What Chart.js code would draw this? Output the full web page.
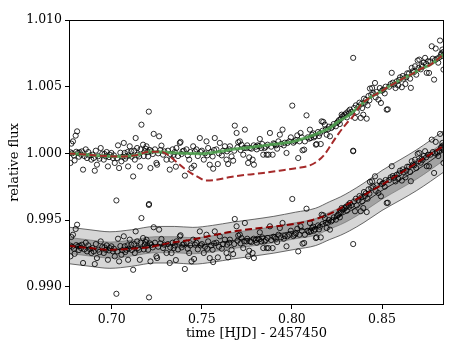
<!DOCTYPE html>
<html>
<head>
<meta charset="utf-8">
<script src="https://cdn.jsdelivr.net/npm/chart.js@4/dist/chart.umd.min.js"></script>
<style>
html,body{margin:0;padding:0;background:#fff;}
#wrap{width:463px;height:347px;}
</style>
</head>
<body>
<div id="wrap"><canvas id="c" width="463" height="347"></canvas></div>
<script>
// ---------- data ----------
const xTicks = [0.70, 0.75, 0.80, 0.85];
const yTicks = [0.990, 0.995, 1.000, 1.005, 1.010];
const OFFSET = 0.007; // lower copy of the light curve is shifted down by this

const obsTime = [
0.6771,0.6771,0.6776,0.6785,0.6794,0.6800,0.6808,0.6813,0.6822,0.6830,0.6841,0.6856,0.6863,0.6878,0.6887,0.6906,0.6918,0.6939,0.6948,0.6956,
0.6967,0.6979,0.6989,0.6998,0.7007,0.7017,0.7026,0.7035,0.7041,0.7054,0.7067,0.7072,0.7081,0.7091,0.7100,0.7109,0.7119,0.7128,0.7133,0.7141,
0.7152,0.7156,0.7165,0.7174,0.7183,0.7193,0.7202,0.7206,0.7207,0.7215,0.7220,0.7233,0.7248,0.7252,0.7263,0.7276,0.7285,0.7304,0.7322,0.7332,
0.7344,0.7356,0.7359,0.7378,0.7382,0.7393,0.7406,0.7415,0.7430,0.7443,0.7452,0.7457,0.7470,0.7489,0.7494,0.7511,0.7526,0.7535,0.7544,0.7563,
0.7560,0.7572,0.7581,0.7589,0.7600,0.7611,0.7628,0.7637,0.7646,0.7656,0.7665,0.7674,0.7683,0.7693,0.7702,0.7711,0.7720,0.7730,0.7739,0.7748,
0.7757,0.7763,0.7767,0.7782,0.7789,0.7800,0.7810,0.7822,0.7830,0.7841,0.7855,0.7860,0.7870,0.7878,0.7893,0.7905,0.7918,0.7933,0.7948,0.7960,
0.7970,0.7975,0.7994,0.8002,0.8015,0.8030,0.8035,0.8048,0.8059,0.8068,0.8072,0.8081,0.8095,0.8100,0.8112,0.8122,0.8133,0.8137,0.8150,0.8160,
0.8165,0.8174,0.8183,0.8193,0.8200,0.8211,0.8225,0.8244,0.8257,0.8266,0.8276,0.8280,0.8294,0.8305,0.8313,0.8322,0.8340,0.8340,0.8350,0.8360,
0.8370,0.8382,0.8390,0.8396,0.8405,0.8415,0.8420,0.8430,0.8433,0.8445,0.8461,0.8465,0.8480,0.8494,0.8500,0.8507,0.8515,0.8526,0.8532,0.8540,
0.8554,0.8567,0.8575,0.8582,0.8590,0.8600,0.8610,0.8620,0.8630,0.8640,0.8656,0.8660,0.8665,0.8671,0.8683,0.8690,0.8698,0.8707,0.8715,0.8725,
0.8739,0.8748,0.8755,0.8761,0.8776,0.8789,0.8798,0.8805,0.8812,0.8822,0.8830,0.8835,0.8841,0.8838,
0.6780,0.6790,0.6803,0.6818,0.6835,0.6848,0.6870,0.6893,0.6900,0.6912,0.6925,0.6932,0.6960,0.6972,0.6985,0.7012,0.7030,0.7048,0.7060,0.7075,
0.7088,0.7095,0.7112,0.7125,0.7145,0.7160,0.7178,0.7188,0.7198,0.7212,0.7228,0.7240,0.7258,0.7270,0.7292,0.7312,0.7325,0.7338,0.7350,0.7368,
0.7388,0.7400,0.7422,0.7436,0.7462,0.7478,0.7500,0.7518,0.7530,0.7552,0.7568,0.7595,0.7618,0.7640,0.7652,0.7680,0.7698,0.7715,0.7735,0.7752,
0.7775,0.7788,0.7805,0.7818,0.7835,0.7848,0.7865,0.7885,0.7898,0.7912,0.7925,0.7940,0.7955,0.7985,0.8008,0.8022,0.8042,0.8055,0.8088,0.8105,
0.8118,0.8128,0.8145,0.8155,0.8170,0.8188,0.8205,0.8218,0.8232,0.8250,0.8262,0.8272,0.8287,0.8300,0.8318,0.8330,0.8345,0.8355,0.8375,0.8385,
0.8400,0.8410,0.8425,0.8440,0.8452,0.8470,0.8488,0.8520,0.8548,0.8560,0.8595,0.8615,0.8635,0.8650,0.8678,0.8702,0.8720,0.8732,0.8745,0.8768,
0.8782,0.8795,0.8818,0.8828,0.8840
];
const obsFlux = [
1.00008,0.99928,1.00073,1.00090,0.99947,1.00133,1.00165,1.00003,1.00008,0.99990,0.99878,1.00030,0.99965,0.99983,0.99953,0.99870,0.99915,1.00040,0.99998,0.99953,
0.99977,0.99902,0.99990,1.00003,0.99965,0.99928,0.99647,1.00060,0.99890,0.99940,1.00078,1.00003,0.99977,0.99902,1.00053,1.00015,0.99827,0.99953,1.00115,1.00040,
0.99977,0.99902,1.00215,1.00065,1.00015,1.00053,0.99977,1.00313,0.99620,0.99890,1.00015,1.00146,0.99928,0.99915,1.00128,1.00058,0.99990,0.99953,0.99878,0.99953,
0.99990,0.99900,1.00040,1.00078,1.00086,1.00015,0.99833,1.00030,0.99953,0.99890,1.00053,0.99908,1.00030,1.00115,1.00010,0.99953,1.00090,1.00040,0.99915,0.99885,
0.99977,1.00115,1.00030,0.99920,1.00078,0.99985,1.00053,0.99953,0.99920,1.00053,0.99977,0.99945,1.00208,1.00153,1.00083,1.00090,1.00065,0.99990,1.00178,1.00040,
0.99928,0.99970,1.00040,0.99953,0.99915,1.00050,1.00060,1.00108,1.00040,0.99990,1.00050,0.99990,0.99990,1.00153,0.99990,1.00070,1.00035,1.00140,1.00178,1.00080,
1.00003,1.00078,1.00120,1.00358,1.00090,1.00135,0.99965,1.00153,1.00023,1.00028,1.00090,1.00285,1.00110,1.00178,1.00140,1.00120,1.00065,1.00070,1.00130,1.00070,
1.00240,1.00236,1.00215,1.00140,1.00180,1.00128,1.00200,1.00203,1.00240,1.00220,1.00290,1.00278,1.00290,1.00270,1.00315,1.00328,1.00716,1.00020,1.00266,1.00310,
1.00350,1.00266,1.00340,1.00290,1.00380,1.00260,1.00360,1.00398,1.00486,1.00490,1.00528,1.00420,1.00403,1.00378,1.00470,1.00478,1.00450,1.00328,1.00330,1.00500,
1.00604,1.00516,1.00490,1.00540,1.00510,1.00570,1.00496,1.00560,1.00520,1.00600,1.00560,1.00491,1.00641,1.00616,1.00653,1.00590,1.00696,1.00703,1.00630,1.00650,
1.00716,1.00604,1.00690,1.00603,1.00803,1.00553,1.00786,1.00710,1.00680,1.00846,1.00750,1.00778,1.00628,1.00730,
1.00000,0.99985,1.00012,0.99975,1.00015,0.99980,1.00010,0.99990,0.99965,1.00020,0.99978,0.99960,0.99995,1.00010,0.99972,0.99985,0.99965,1.00005,0.99975,0.99960,
1.00010,0.99985,0.99975,1.00020,0.99990,1.00030,0.99980,1.00035,1.00010,1.00025,0.99995,1.00030,1.00000,1.00025,1.00015,1.00020,0.99995,1.00030,1.00010,0.99980,
0.99995,1.00020,0.99985,1.00010,1.00015,0.99980,1.00020,1.00000,0.99985,1.00010,1.00025,1.00000,1.00020,1.00015,1.00030,1.00020,1.00045,1.00025,1.00040,1.00060,
1.00035,1.00060,1.00030,1.00055,1.00070,1.00040,1.00065,1.00050,1.00075,1.00060,1.00090,1.00070,1.00060,1.00090,1.00080,1.00100,1.00090,1.00120,1.00120,1.00115,
1.00150,1.00130,1.00160,1.00150,1.00170,1.00180,1.00200,1.00190,1.00220,1.00230,1.00250,1.00260,1.00280,1.00300,1.00300,1.00310,1.00340,1.00360,1.00380,1.00370,
1.00410,1.00400,1.00430,1.00440,1.00450,1.00460,1.00490,1.00500,1.00520,1.00530,1.00550,1.00580,1.00570,1.00600,1.00610,1.00640,1.00660,1.00680,1.00670,1.00690,
1.00710,1.00700,1.00720,1.00740,1.00760
];

// smooth fit through the upper light curve
const fitTime = [0.676,0.685,0.693,0.704,0.713,0.721,0.730,0.740,0.749,0.758,0.767,0.777,0.785,0.793,0.801,0.810,0.816,0.821,0.826,0.832,0.838,0.843,0.849,0.854,0.860,0.866,0.871,0.877,0.884];
const fitFlux = [1.0000,0.99992,0.99983,0.99977,0.99985,1.00013,1.00008,1.00000,0.99998,1.0001,1.0003,1.00045,1.0006,1.00073,1.0009,1.00128,1.0016,1.0019,1.0024,1.0029,1.0036,1.00416,1.0046,1.00503,1.0055,1.0059,1.0063,1.00666,1.00741];

// transit model (upper, dashed)
const modelTime = [0.676,0.685,0.693,0.704,0.713,0.721,0.728,0.732,0.736,0.740,0.744,0.748,0.752,0.757,0.766,0.775,0.784,0.793,0.803,0.810,0.814,0.818,0.822,0.826,0.830,0.834,0.838,0.843,0.849,0.854,0.860,0.866,0.871,0.877,0.884];
const modelFlux = [1.0000,0.99992,0.99983,0.99977,0.99985,1.00013,1.0001,0.9998,0.99935,0.9989,0.99852,0.99822,0.99797,0.99800,0.99823,0.9984,0.99853,0.9987,0.9989,0.9991,0.9994,0.9999,1.0007,1.0015,1.0022,1.0028,1.0036,1.00416,1.0046,1.00503,1.0055,1.0059,1.0063,1.00666,1.00741];

// lower panel: prediction mean with 1 and 2 sigma envelopes
const predTime = [0.676,0.688,0.699,0.711,0.724,0.735,0.745,0.756,0.767,0.779,0.790,0.802,0.813,0.821,0.827,0.832,0.840,0.850,0.860,0.869,0.877,0.885];
const predMean = [0.9931,0.9929,0.99275,0.9929,0.99315,0.99315,0.99307,0.99322,0.99346,0.99368,0.9939,0.9942,0.99448,0.99496,0.9953,0.99565,0.9963,0.99722,0.9980,0.99872,0.99945,1.00022];
const predInner = [0.0006,0.0006,0.0006,0.0006,0.0006,0.0006,0.0006,0.0006,0.0006,0.0006,0.0006,0.0006,0.00062,0.00063,0.00064,0.00065,0.00065,0.00066,0.00066,0.00067,0.00067,0.00068];
const predOuter = [0.00137,0.00137,0.00137,0.00137,0.00137,0.00137,0.00138,0.00138,0.00138,0.00138,0.00138,0.00139,0.0014,0.00142,0.00144,0.00146,0.00148,0.0015,0.00152,0.00153,0.00154,0.00155];

// lower dashed model
const lowModelTime = [0.676,0.688,0.699,0.711,0.721,0.731,0.744,0.756,0.767,0.779,0.790,0.804,0.815,0.823,0.832,0.841,0.850,0.860,0.869,0.877,0.885];
const lowModelFlux = [0.99307,0.9929,0.99277,0.99285,0.99297,0.99325,0.99352,0.99385,0.99414,0.99435,0.99452,0.99477,0.99515,0.9956,0.99628,0.99695,0.99765,0.99848,0.99928,0.99995,1.00062];

// ---------- chart ----------
const pts = (xs, ys) => xs.map((x, i) => ({x: x, y: ys[i]}));
const FONT = 'DejaVu Serif';
Chart.defaults.font.family = FONT;
Chart.defaults.font.size = 12.5;
Chart.defaults.color = '#000';

const lineBase = {type: 'line', pointRadius: 0, fill: false, cubicInterpolationMode: 'monotone'};

const datasets = [
  Object.assign({}, lineBase, {label: 'outer up', data: pts(predTime, predMean.map((m, i) => m + predOuter[i])),
    borderColor: '#444', borderWidth: 0.8, fill: '+1', backgroundColor: '#d6d6d6', order: 20}),
  Object.assign({}, lineBase, {label: 'outer low', data: pts(predTime, predMean.map((m, i) => m - predOuter[i])),
    borderColor: '#444', borderWidth: 0.8, order: 19}),
  Object.assign({}, lineBase, {label: 'inner up', data: pts(predTime, predMean.map((m, i) => m + predInner[i])),
    borderColor: '#666', borderWidth: 0.6, fill: '+1', backgroundColor: '#a2a2a2', order: 18}),
  Object.assign({}, lineBase, {label: 'inner low', data: pts(predTime, predMean.map((m, i) => m - predInner[i])),
    borderColor: '#666', borderWidth: 0.6, order: 17}),
  Object.assign({}, lineBase, {label: 'pred mean', data: pts(predTime, predMean),
    borderColor: '#222', borderWidth: 1, order: 16}),
  {type: 'scatter', label: 'lower obs', data: pts(obsTime, obsFlux.map(v => v - OFFSET)),
    pointRadius: 2.6, borderWidth: 1, borderColor: 'rgba(0,0,0,0.82)', backgroundColor: 'rgba(0,0,0,0)', order: 15},
  {type: 'scatter', label: 'upper obs', data: pts(obsTime, obsFlux),
    pointRadius: 2.6, borderWidth: 1, borderColor: 'rgba(0,0,0,0.82)', backgroundColor: 'rgba(0,0,0,0)', order: 14},
  Object.assign({}, lineBase, {label: 'fit green', data: pts(fitTime, fitFlux),
    borderColor: 'rgba(80,165,80,0.85)', borderWidth: 3, order: 13}),
  Object.assign({}, lineBase, {label: 'model', data: pts(modelTime, modelFlux),
    borderColor: '#a52a2a', borderWidth: 2, borderDash: [7, 3.5], order: 11}),
  Object.assign({}, lineBase, {label: 'low model', data: pts(lowModelTime, lowModelFlux),
    borderColor: '#8b0000', borderWidth: 2, borderDash: [7, 3.5], order: 10})
];

const framePlugin = {
  id: 'frame',
  afterDatasetsDraw(chart) {
    const a = chart.chartArea, ctx = chart.ctx;
    ctx.save();
    ctx.strokeStyle = '#000';
    ctx.lineWidth = 1;
    ctx.strokeRect(Math.round(a.left) + 0.5, Math.round(a.top) + 0.5,
      Math.round(a.right - a.left) - 1, Math.round(a.bottom - a.top) - 1);
    ctx.restore();
  }
};

new Chart(document.getElementById('c'), {
  type: 'scatter',
  data: {datasets: datasets},
  plugins: [framePlugin],
  options: {
    responsive: false,
    animation: false,
    events: [],
    layout: {padding: {top: 20, right: 19, left: 0, bottom: 0}},
    plugins: {legend: {display: false}, tooltip: {enabled: false}},
    scales: {
      x: {
        type: 'linear', min: 0.6763, max: 0.8844,
        afterBuildTicks: s => { s.ticks = xTicks.map(v => ({value: v})); },
        afterFit: s => { s.height = 42; },
        ticks: {callback: v => v.toFixed(2), padding: 3, maxRotation: 0, autoSkip: false},
        grid: {drawOnChartArea: false, drawTicks: true, tickLength: 4, tickColor: '#000', tickWidth: 1},
        border: {display: false},
        title: {display: true, text: 'time [HJD] - 2457450', font: {size: 13}, padding: {top: 0, bottom: 5.2}}
      },
      y: {
        type: 'linear', min: 0.98863, max: 1.0100,
        afterBuildTicks: s => { s.ticks = yTicks.map(v => ({value: v})); },
        afterFit: s => { s.width = 69; },
        ticks: {callback: v => v.toFixed(3), padding: 3, autoSkip: false},
        grid: {drawOnChartArea: false, drawTicks: true, tickLength: 4, tickColor: '#000', tickWidth: 1},
        border: {display: false},
        title: {display: true, text: 'relative flux', font: {size: 13}, padding: {top: 7, bottom: 0}}
      }
    }
  }
});
</script>
</body>
</html>
